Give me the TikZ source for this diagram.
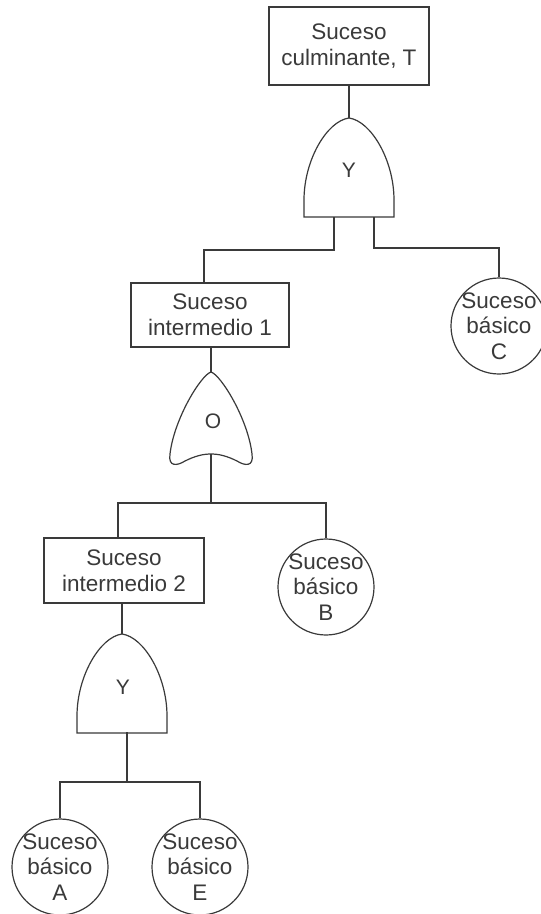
\documentclass[tikz,border=0pt]{standalone}
\usepackage{fontspec}
\setmainfont{Liberation Sans}
\definecolor{ink}{HTML}{3A3A3A}
\begin{document}
\begin{tikzpicture}[x=1pt,y=-1pt,
  wire/.style={draw=ink, line width=1.2pt},
  evbox/.style={draw=ink, line width=1.2pt, rectangle, minimum width=160pt, inner sep=0pt, align=center, text=ink, font=\fontsize{22.5}{26}\selectfont},
  basic/.style={draw=ink, line width=1.2pt, circle, minimum size=96pt, inner sep=0pt},
  ctext/.style={align=center, text=ink, inner sep=0pt, font=\fontsize{22.5}{25.5}\selectfont},
  glet/.style={text=ink, inner sep=0pt, font=\fontsize{21}{24}\selectfont},
  andgate/.pic={
    \draw[wire] (-45,99) -- (-45,82) .. controls (-45,42) and (-22,3) .. (0,0)
      .. controls (22,3) and (45,42) .. (45,82) -- (45,99) -- cycle;
    \coordinate (-apex) at (0,0);
  },
  orgate/.pic={
    \draw[wire] (0,0) .. controls (-10,3) and (-37,47) .. (-41,82)
      .. controls (-43,95) and (-34,94) .. (-26,89)
      .. controls (-16,84) and (-8,82) .. (0,82)
      .. controls (8,82) and (16,84) .. (26,89)
      .. controls (34,94) and (43,95) .. (41,82)
      .. controls (37,47) and (10,3) .. (0,0) -- cycle;
    \coordinate (-apex) at (0,0);
    \coordinate (-bottom) at (0,82);
  }]
\useasboundingbox[fill=white] (0,0) rectangle (541,914);

% events
\node[evbox, minimum height=78pt] (T) at (349,46) {Suceso\\culminante, T};
\node[evbox, minimum width=158pt, minimum height=64pt] (I1) at (210,315) {Suceso\\intermedio 1};
\node[evbox, minimum height=65pt] (I2) at (124,570.5) {Suceso\\intermedio 2};

\node[basic] (C) at (499,326) {};
\node[ctext] (Ct) at (C) {Suceso\\básico\\C};
\node[basic] (B) at (326,587) {};
\node[ctext] (Bt) at (B) {Suceso\\básico\\B};
\node[basic] (A) at (60,867) {};
\node[ctext] (At) at (A) {Suceso\\básico\\A};
\node[basic] (E) at (200,867) {};
\node[ctext] (Et) at (E) {Suceso\\básico\\E};

% gates
\pic (g1) at (349,118) {andgate};
\node[glet] (g1l) at (349,170) {Y};
\pic (g2) at (211,372) {orgate};
\node[glet] (g2l) at (213,421) {O};
\pic (g3) at (122,634) {andgate};
\node[glet] (g3l) at (123,687) {Y};

% connection points
\coordinate (s1l) at (334,217);
\coordinate (s1r) at (374,217);
\coordinate (I1in) at (204,283);
\coordinate (I1out) at (211,347);
\coordinate (I2in) at (118,538);
\coordinate (I2out) at (122,603);
\coordinate (s3) at (127,732);

% connectors
\draw[wire] (T.south) -- (g1-apex);
\draw[wire] (s1l) -- ++(0,33) -| (I1in);
\draw[wire] (s1r) -- ++(0,31) -| (C.north);
\draw[wire] (I1out) -- (g2-apex);
\draw[wire] (g2-bottom) -- ++(0,49) coordinate (j2);
\draw[wire] (I2in) |- (j2) -| (B.north);
\draw[wire] (I2out) -- (g3-apex);
\draw[wire] (s3) -- ++(0,50) coordinate (j3);
\draw[wire] (A.north) |- (j3) -| (E.north);
\end{tikzpicture}
\end{document}
